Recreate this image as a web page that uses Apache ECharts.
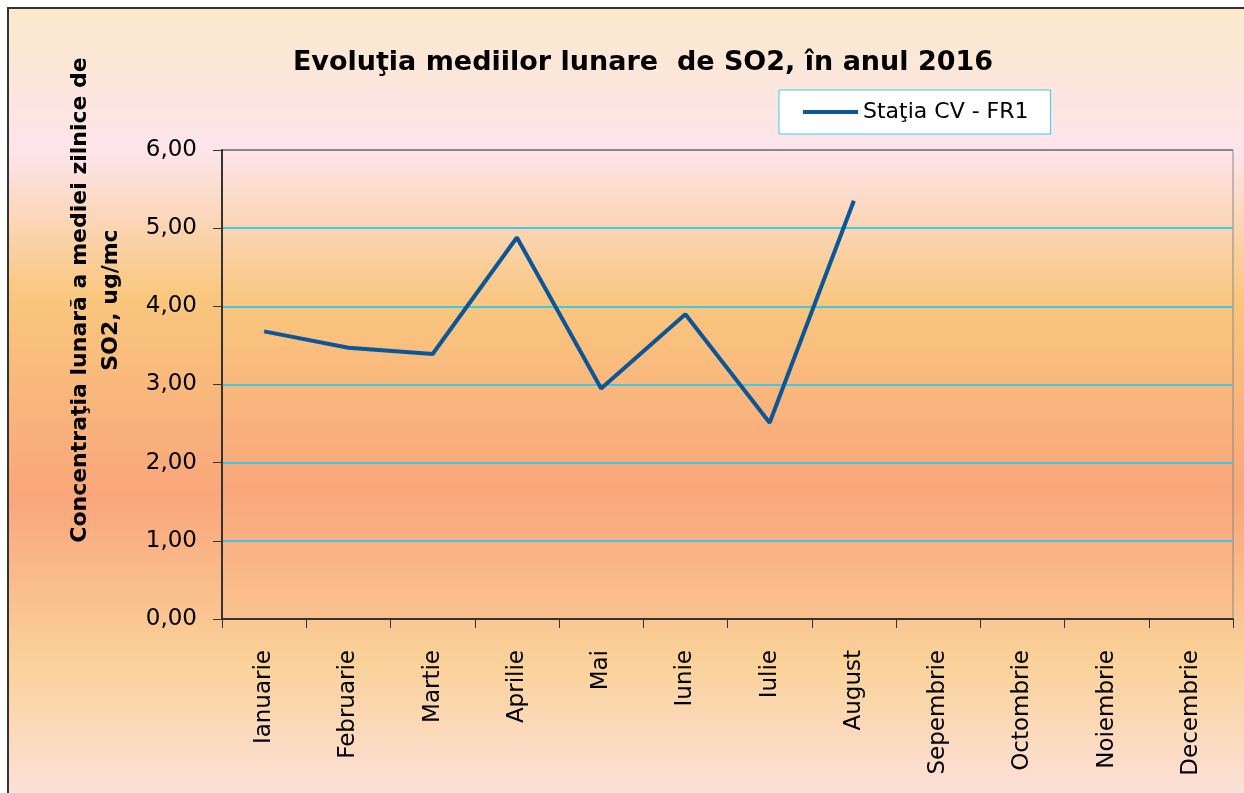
<!DOCTYPE html>
<html>
<head>
<meta charset="utf-8">
<script src="https://cdn.jsdelivr.net/npm/echarts@6/dist/echarts.min.js"></script>
<style>
html,body{margin:0;padding:0;background:#fff;}
#chart{width:1244px;height:793px;}
</style>
</head>
<body>
<div id="chart"></div>
<script>
var months = ['Ianuarie','Februarie','Martie','Aprilie','Mai','Iunie','Iulie','August','Sepembrie','Octombrie','Noiembrie','Decembrie'];
var so2Values = [3.68, 3.47, 3.39, 4.88, 2.95, 3.90, 2.51, 5.35, null, null, null, null];
var seriesName = 'Staţia CV - FR1';
var chartTitle = 'Evoluţia mediilor lunare  de SO2, în anul 2016';
var yAxisTitle = 'Concentraţia lunară a mediei zilnice de\nSO2, ug/mc';

var FONT = 'DejaVu Sans';
var chart = echarts.init(document.getElementById('chart'));

var GRID_CYAN = '#40C8E6';
var option = {
  backgroundColor: '#ffffff',
  animation: false,
  graphic: [
    {
      type: 'rect', z: -10, silent: true,
      shape: {x: 8, y: 8, width: 1250, height: 800},
      style: {
        fill: {type: 'linear', x: 0, y: 0, x2: 0, y2: 1, colorStops: [
          {offset: 0, color: '#FBE9CB'},
          {offset: 0.18, color: '#FDE4EC'},
          {offset: 0.36, color: '#F9C77D'},
          {offset: 0.61, color: '#F9A67B'},
          {offset: 0.82, color: '#FAD29A'},
          {offset: 1, color: '#FDE2E2'}
        ]},
        stroke: '#333', lineWidth: 2
      }
    },
    {
      type: 'text', z: 10,
      x: 96, y: 300, rotation: Math.PI / 2,
      style: {
        text: yAxisTitle,
        font: 'bold 22px "' + FONT + '"',
        fill: '#000',
        textAlign: 'center',
        textVerticalAlign: 'middle',
        lineHeight: 31
      }
    }
  ],
  title: {
    text: chartTitle,
    left: 638, top: 44, textAlign: 'center',
    textStyle: {fontFamily: FONT, fontWeight: 'bold', fontSize: 27, color: '#000'}
  },
  legend: {
    left: 779, top: 90,
    padding: [11, 22, 11, 24],
    itemWidth: 55, itemHeight: 4, itemGap: 5,
    icon: 'rect',
    backgroundColor: '#ffffff',
    borderColor: '#3FC8F0', borderWidth: 1,
    textStyle: {fontFamily: FONT, fontSize: 22, color: '#000'},
    data: [seriesName]
  },
  grid: {
    left: 222, right: 11, top: 150, bottom: 174,
    show: true,
    borderColor: '#888', borderWidth: 1,
    backgroundColor: {type: 'linear', x: 0, y: 0, x2: 0, y2: 1, colorStops: [
      {offset: 0, color: '#FDE4EA'},
      {offset: 0.33, color: '#F9C67E'},
      {offset: 0.72, color: '#F9A67B'},
      {offset: 1, color: '#FAC28E'}
    ]}
  },
  xAxis: {
    type: 'category',
    data: months,
    boundaryGap: true,
    axisLine: {lineStyle: {color: '#333', width: 2}},
    axisTick: {show: true, length: 9, lineStyle: {color: '#333', width: 1}},
    axisLabel: {rotate: 90, margin: 31, fontFamily: FONT, fontSize: 23, color: '#000'}
  },
  yAxis: {
    type: 'value',
    min: 0, max: 6, interval: 1,
    axisLine: {show: true, lineStyle: {color: '#333', width: 2}},
    axisTick: {show: true, length: 9, lineStyle: {color: '#333', width: 1}},
    axisLabel: {margin: 25, fontFamily: FONT, fontSize: 23, color: '#000',
      formatter: function (v) { return v.toFixed(2).replace('.', ','); }},
    splitLine: {show: true, lineStyle: {
      color: [GRID_CYAN, GRID_CYAN, GRID_CYAN, GRID_CYAN, GRID_CYAN, GRID_CYAN, '#888888'],
      width: 2
    }}
  },
  series: [{
    name: seriesName,
    type: 'line',
    data: so2Values,
    symbol: 'none',
    connectNulls: false,
    lineStyle: {color: '#0B5697', width: 4},
    itemStyle: {color: '#0B5697'}
  }]
};
chart.setOption(option);
</script>
</body>
</html>
